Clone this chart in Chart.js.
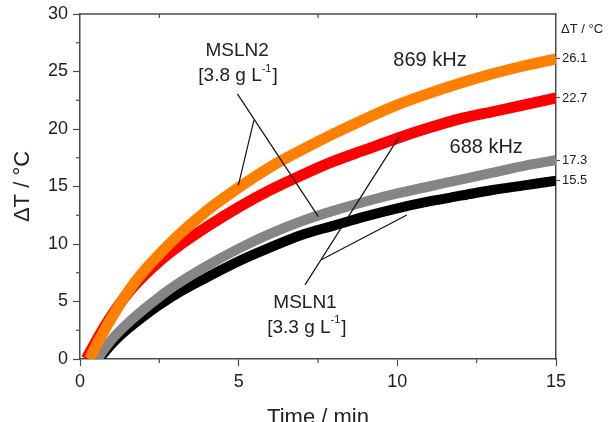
<!DOCTYPE html>
<html>
<head>
  <meta charset="UTF-8">
  <title>Heating curves MSLN1 / MSLN2</title>
  <style>
    body {
      margin: 0;
      background: #fff;
    }
    #wrap {
      width: 609px;
      height: 422px;
    }
  </style>
  <script src="https://cdn.jsdelivr.net/npm/chart.js"></script>
</head>
<body>
  <div id="wrap">
    <canvas id="heatChart" width="609" height="422"></canvas>
  </div>

  <script>
  // time (min) and temperature rise (°C)
  const timeOrange = [0.3, 0.5, 0.75, 1, 1.5, 2, 2.5, 3, 4, 5, 6, 7, 8, 9, 10, 11, 12, 13, 14, 15];
  const dtOrange   = [0, 1.1, 2.4, 3.6, 5.8, 7.6, 9.1, 10.5, 12.9, 14.9, 16.7, 18.2, 19.6, 20.9, 22.1, 23.1, 24.0, 24.8, 25.5, 26.1];

  const timeRed = [0.2, 0.5, 0.75, 1, 1.5, 2, 2.5, 3, 4, 5, 6, 7, 8, 9, 10, 11, 12, 13, 14, 15];
  const dtRed   = [0, 1.5, 2.7, 3.8, 5.7, 7.2, 8.5, 9.6, 11.5, 13.2, 14.7, 16.0, 17.2, 18.2, 19.2, 20.1, 20.9, 21.5, 22.1, 22.7];

  const timeGray = [0.55, 0.75, 1, 1.5, 2, 2.5, 3, 4, 5, 6, 7, 8, 9, 10, 11, 12, 13, 14, 15];
  const dtGray   = [0, 0.8, 1.7, 3.1, 4.3, 5.4, 6.4, 8.1, 9.6, 10.9, 12.0, 12.9, 13.7, 14.4, 15.0, 15.6, 16.2, 16.8, 17.3];

  const timeBlack = [0.6, 0.75, 1, 1.5, 2, 2.5, 3, 4, 5, 6, 7, 8, 9, 10, 11, 12, 13, 14, 15];
  const dtBlack   = [0, 0.5, 1.3, 2.6, 3.7, 4.7, 5.6, 7.1, 8.5, 9.7, 10.8, 11.6, 12.4, 13.1, 13.7, 14.2, 14.7, 15.1, 15.5];

  // final values shown on the right axis
  const endValues = [26.1, 22.7, 17.3, 15.5];

  const xMinor = [2.5, 7.5, 12.5];
  const yMinor = [2.5, 7.5, 12.5, 17.5, 22.5, 27.5];

  const FONT = "'Liberation Sans', Arial, sans-serif";
  const AXIS = "#4a4a4a";

  function pts(t, v) {
    return t.map((x, i) => ({ x: x, y: v[i] }));
  }

  function series(label, t, v, color, width, order) {
    return {
      label: label,
      data: pts(t, v),
      borderColor: color,
      borderWidth: width,
      borderCapStyle: "butt",
      pointRadius: 0,
      cubicInterpolationMode: "monotone",
      fill: false,
      clip: 0,
      order: order
    };
  }

  // leader lines, in data units [t, dT]
  const leaders = [
    [[4.96, 23.06], [7.51, 12.38]],
    [[5.48, 20.78], [4.99, 15.10]],
    [[7.09, 6.45], [10.06, 19.34]],
    [[7.62, 8.66], [10.30, 12.52]]
  ];

  // text labels: [t, dT, main text, superscript, tail, size]
  const notes = [
    [11.03, 25.96, "869 kHz", "", "", 20],
    [12.80, 18.40, "688 kHz", "", "", 20],
    [4.95, 26.82, "MSLN2", "", "", 19],
    [4.98, 24.59, "[3.8 g L", "-1", "]", 19],
    [7.09, 4.90, "MSLN1", "", "", 19],
    [7.15, 2.75, "[3.3 g L", "-1", "]", 19]
  ];

  function line(ctx, x1, y1, x2, y2) {
    ctx.beginPath();
    ctx.moveTo(x1, y1);
    ctx.lineTo(x2, y2);
    ctx.stroke();
  }

  const extras = {
    id: "extras",
    afterDatasetsDraw(chart) {
      const ctx = chart.ctx;
      const a = chart.chartArea;
      const x = chart.scales.x;
      const y = chart.scales.y;
      ctx.save();

      // top frame line
      ctx.strokeStyle = AXIS;
      ctx.lineWidth = 1.5;
      line(ctx, a.left, a.top, a.right, a.top);

      // minor ticks
      ctx.lineWidth = 1.2;
      xMinor.forEach(v => {
        const px = x.getPixelForValue(v);
        line(ctx, px, a.bottom, px, a.bottom + 4);
        line(ctx, px, a.top, px, a.top + 4);
      });
      yMinor.forEach(v => {
        const py = y.getPixelForValue(v);
        line(ctx, a.left - 4, py, a.left, py);
      });

      // leader lines
      ctx.strokeStyle = "#111";
      ctx.lineWidth = 1.2;
      leaders.forEach(l => {
        line(ctx, x.getPixelForValue(l[0][0]), y.getPixelForValue(l[0][1]),
                  x.getPixelForValue(l[1][0]), y.getPixelForValue(l[1][1]));
      });

      // labels
      ctx.fillStyle = "#222";
      ctx.textBaseline = "middle";
      notes.forEach(n => {
        const size = n[5];
        const big = size + "px " + FONT;
        const small = Math.round(size * 0.6) + "px " + FONT;
        ctx.font = big;
        const w1 = ctx.measureText(n[2]).width;
        const w3 = ctx.measureText(n[4]).width;
        ctx.font = small;
        const w2 = n[3] ? ctx.measureText(n[3]).width + 1 : 0;
        let px = x.getPixelForValue(n[0]) - (w1 + w2 + w3) / 2;
        const py = y.getPixelForValue(n[1]);
        ctx.textAlign = "left";
        ctx.font = big;
        ctx.fillText(n[2], px, py);
        px += w1;
        if (n[3]) {
          ctx.font = small;
          ctx.fillText(n[3], px, py - size * 0.38);
          px += w2;
          ctx.font = big;
          ctx.fillText(n[4], px, py);
        }
      });

      // right axis caption
      ctx.font = "13px " + FONT;
      ctx.textAlign = "center";
      ctx.fillText("\u0394T / \u00b0C", a.right + 26, 29);
      ctx.restore();
    }
  };

  const tickFont = { family: FONT, size: 18 };
  const titleFont = { family: FONT, size: 22 };

  new Chart(document.getElementById("heatChart").getContext("2d"), {
    type: "line",
    data: {
      datasets: [
        series("MSLN2 869 kHz", timeOrange, dtOrange, "#ff8000", 11, 1),
        series("MSLN1 869 kHz", timeRed, dtRed, "#ff0000", 11, 2),
        series("MSLN2 688 kHz", timeGray, dtGray, "#858585", 10, 3),
        series("MSLN1 688 kHz", timeBlack, dtBlack, "#000000", 10, 4)
      ]
    },
    options: {
      responsive: false,
      animation: false,
      layout: { padding: { top: 10, left: 0, right: 0, bottom: 0 } },
      plugins: {
        legend: { display: false },
        tooltip: { enabled: false }
      },
      scales: {
        x: {
          type: "linear",
          min: 0,
          max: 15,
          ticks: { stepSize: 5, font: tickFont, color: "#222", padding: 5 },
          grid: { drawOnChartArea: false, tickLength: 7, color: AXIS, tickWidth: 1.2 },
          border: { display: true, color: AXIS, width: 1.5 },
          title: { display: true, text: "Time / min", font: titleFont, color: "#222", padding: { top: 0, bottom: -9 } },
          afterFit(s) { s.height = 63; }
        },
        y: {
          min: 0,
          max: 30,
          ticks: { stepSize: 5, font: { family: FONT, size: 18, lineHeight: 1 }, color: "#222", padding: 5 },
          grid: { drawOnChartArea: false, tickLength: 7, color: AXIS, tickWidth: 1.2 },
          border: { display: true, color: AXIS, width: 1.5 },
          title: { display: true, text: "\u0394T / \u00b0C", font: titleFont, color: "#222", padding: { top: 10, bottom: 0 } },
          afterFit(s) { s.width = 80; }
        },
        y2: {
          position: "right",
          min: 0,
          max: 30,
          afterBuildTicks(s) { s.ticks = endValues.map(v => ({ value: v })); },
          ticks: {
            autoSkip: false,
            font: { family: FONT, size: 13, lineHeight: 1 },
            color: "#222",
            padding: 2,
            callback: v => v.toFixed(1)
          },
          grid: { drawOnChartArea: false, tickLength: 4, color: AXIS, tickWidth: 1.2 },
          border: { display: true, color: AXIS, width: 1.5 },
          afterFit(s) { s.width = 53; }
        }
      }
    },
    plugins: [extras]
  });
  </script>
</body>
</html>
